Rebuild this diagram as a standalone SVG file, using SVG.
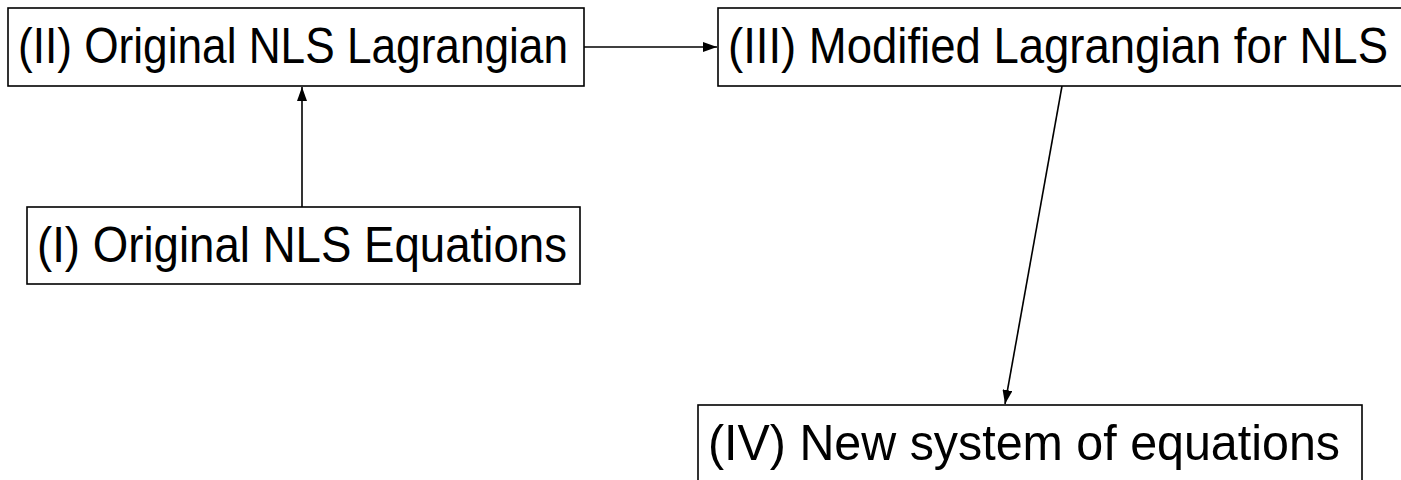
<svg xmlns="http://www.w3.org/2000/svg" width="1401" height="480" viewBox="0 0 1401 480">
<style>
.box{fill:#fff;stroke:#000;stroke-width:1.6}
.lbl{font-family:"Liberation Sans",Arial,sans-serif;font-size:50px;fill:#000}
.edge{stroke:#000;stroke-width:1.6;fill:none}
</style>
<defs>
<marker id="ah" viewBox="0 0 14 10" refX="14" refY="5" markerWidth="14" markerHeight="10" markerUnits="userSpaceOnUse" orient="auto">
<path d="M0,0 L14,5 L0,10 z" fill="#000"/>
</marker>
</defs>
<rect width="1401" height="480" fill="#fff"/>
<g id="connectors">
<line class="edge" x1="584" y1="47" x2="717" y2="47" marker-end="url(#ah)"/>
<line class="edge" x1="302" y1="207" x2="302" y2="87" marker-end="url(#ah)"/>
<line class="edge" x1="1062" y1="86" x2="1005" y2="404" marker-end="url(#ah)"/>
</g>
<g id="n2">
<rect class="box" x="8" y="8" width="576" height="78"/>
<text class="lbl" x="18" y="63" textLength="550" lengthAdjust="spacingAndGlyphs">(II) Original NLS Lagrangian</text>
</g>
<g id="n3">
<rect class="box" x="718" y="8" width="700" height="78"/>
<text class="lbl" x="728" y="63" textLength="660" lengthAdjust="spacingAndGlyphs">(III) Modified Lagrangian for NLS</text>
</g>
<g id="n1">
<rect class="box" x="27" y="207" width="553" height="77"/>
<text class="lbl" x="37" y="262" textLength="530" lengthAdjust="spacingAndGlyphs">(I) Original NLS Equations</text>
</g>
<g id="n4">
<rect class="box" x="698" y="405" width="664" height="90"/>
<text class="lbl" x="708" y="460" textLength="632" lengthAdjust="spacingAndGlyphs">(IV) New system of equations</text>
</g>
</svg>
